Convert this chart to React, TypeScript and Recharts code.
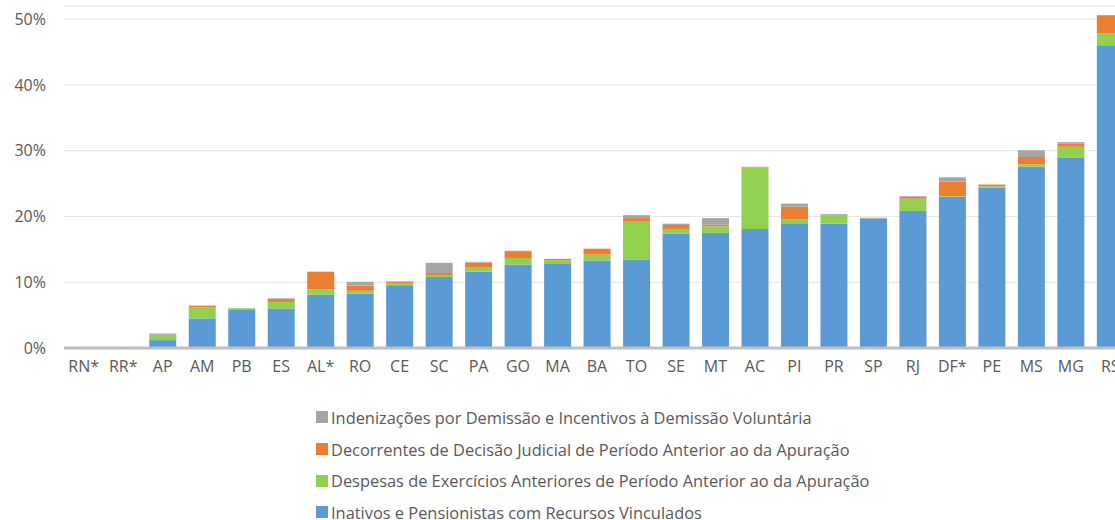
import { Bar, BarChart, CartesianGrid, Legend, XAxis, YAxis } from 'recharts';

const categories = ['RN*', 'RR*', 'AP', 'AM', 'PB', 'ES', 'AL*', 'RO', 'CE', 'SC', 'PA', 'GO', 'MA', 'BA', 'TO', 'SE', 'MT', 'AC', 'PI', 'PR', 'SP', 'RJ', 'DF*', 'PE', 'MS', 'MG', 'RS'];
const inativos = [0, 0, 1.2, 4.5, 5.9, 6.0, 8.1, 8.3, 9.55, 10.8, 11.6, 12.7, 12.9, 13.3, 13.45, 17.4, 17.5, 18.1, 18.95, 18.9, 19.65, 20.85, 23.0, 24.35, 27.55, 28.9, 46.05];
const despesas = [0, 0, 0.8, 1.7, 0.15, 1.0, 0.8, 0.4, 0.35, 0.2, 0.7, 1.0, 0.45, 0.9, 5.75, 0.7, 1.0, 9.35, 0.6, 1.2, 0, 1.85, 0.1, 0.25, 0.4, 1.7, 1.75];
const decorrentes = [0, 0, 0, 0.25, 0, 0.45, 2.7, 0.8, 0.2, 0.4, 0.7, 0.9, 0.2, 0.9, 0.55, 0.6, 0.25, 0.1, 1.95, 0, 0, 0.3, 2.2, 0.25, 1.1, 0.5, 2.8];
const indenizacoes = [0, 0, 0.2, 0, 0, 0.1, 0, 0.55, 0.05, 1.55, 0.1, 0.2, 0, 0, 0.45, 0.2, 1.0, 0, 0.45, 0.25, 0.15, 0.1, 0.65, 0, 1.0, 0.2, 0];
const yTicks = [0, 10, 20, 30, 40, 50];

const series = [
  { key: 'inativos', name: 'Inativos e Pensionistas com Recursos Vinculados', color: '#5b9bd5' },
  { key: 'despesas', name: 'Despesas de Exercícios Anteriores de Período Anterior ao da Apuração', color: '#92d050' },
  { key: 'decorrentes', name: 'Decorrentes de Decisão Judicial de Período Anterior ao da Apuração', color: '#ed7d31' },
  { key: 'indenizacoes', name: 'Indenizações por Demissão e Incentivos à Demissão Voluntária', color: '#a5a5a5' },
];

const data = categories.map((name, i) => ({
  name,
  inativos: inativos[i],
  despesas: despesas[i],
  decorrentes: decorrentes[i],
  indenizacoes: indenizacoes[i],
}));

const font = '"Open Sans", sans-serif';

// legend lists the stack top-down, like the Excel original
function StackLegend() {
  const items = [...series].reverse();
  return (
    <div style={{ height: 142, paddingTop: 23.5, paddingLeft: 316, boxSizing: 'border-box', fontFamily: font }}>
      {items.map((s) => (
        <div key={s.key} style={{ display: 'flex', alignItems: 'center', height: 31.7 }}>
          <span style={{ width: 12, height: 12, background: s.color, marginRight: 3 }} />
          <span style={{ fontSize: 16.4, color: '#595959', whiteSpace: 'nowrap' }}>{s.name}</span>
        </div>
      ))}
    </div>
  );
}

export default function App() {
  return (
    <div style={{ position: 'absolute', left: 0, top: 0, width: 1115, height: 520, overflow: 'hidden', background: '#fff' }}>
      <BarChart width={1130} height={520} data={data} margin={{ top: 6, right: 0, bottom: 0, left: 0 }} barCategoryGap="16%">
        <CartesianGrid vertical={false} stroke="#e4e4e4" />
        <XAxis
          dataKey="name"
          interval={0}
          tickLine={false}
          tickSize={0}
          tickMargin={13}
          height={30}
          axisLine={{ stroke: '#bfbfbf', strokeWidth: 3 }}
          tick={{ fill: '#595959', fontSize: 16, fontFamily: font }}
        />
        <YAxis
          domain={[0, 52]}
          ticks={yTicks}
          width={64}
          tickLine={false}
          axisLine={false}
          tickSize={0}
          tickMargin={18}
          tickFormatter={(v) => `${v}%`}
          tick={{ fill: '#595959', fontSize: 16, fontFamily: font }}
        />
        <Legend verticalAlign="bottom" content={() => <StackLegend />} />
        {series.map((s) => (
          <Bar key={s.key} dataKey={s.key} name={s.name} stackId="a" fill={s.color} isAnimationActive={false} />
        ))}
      </BarChart>
    </div>
  );
}
